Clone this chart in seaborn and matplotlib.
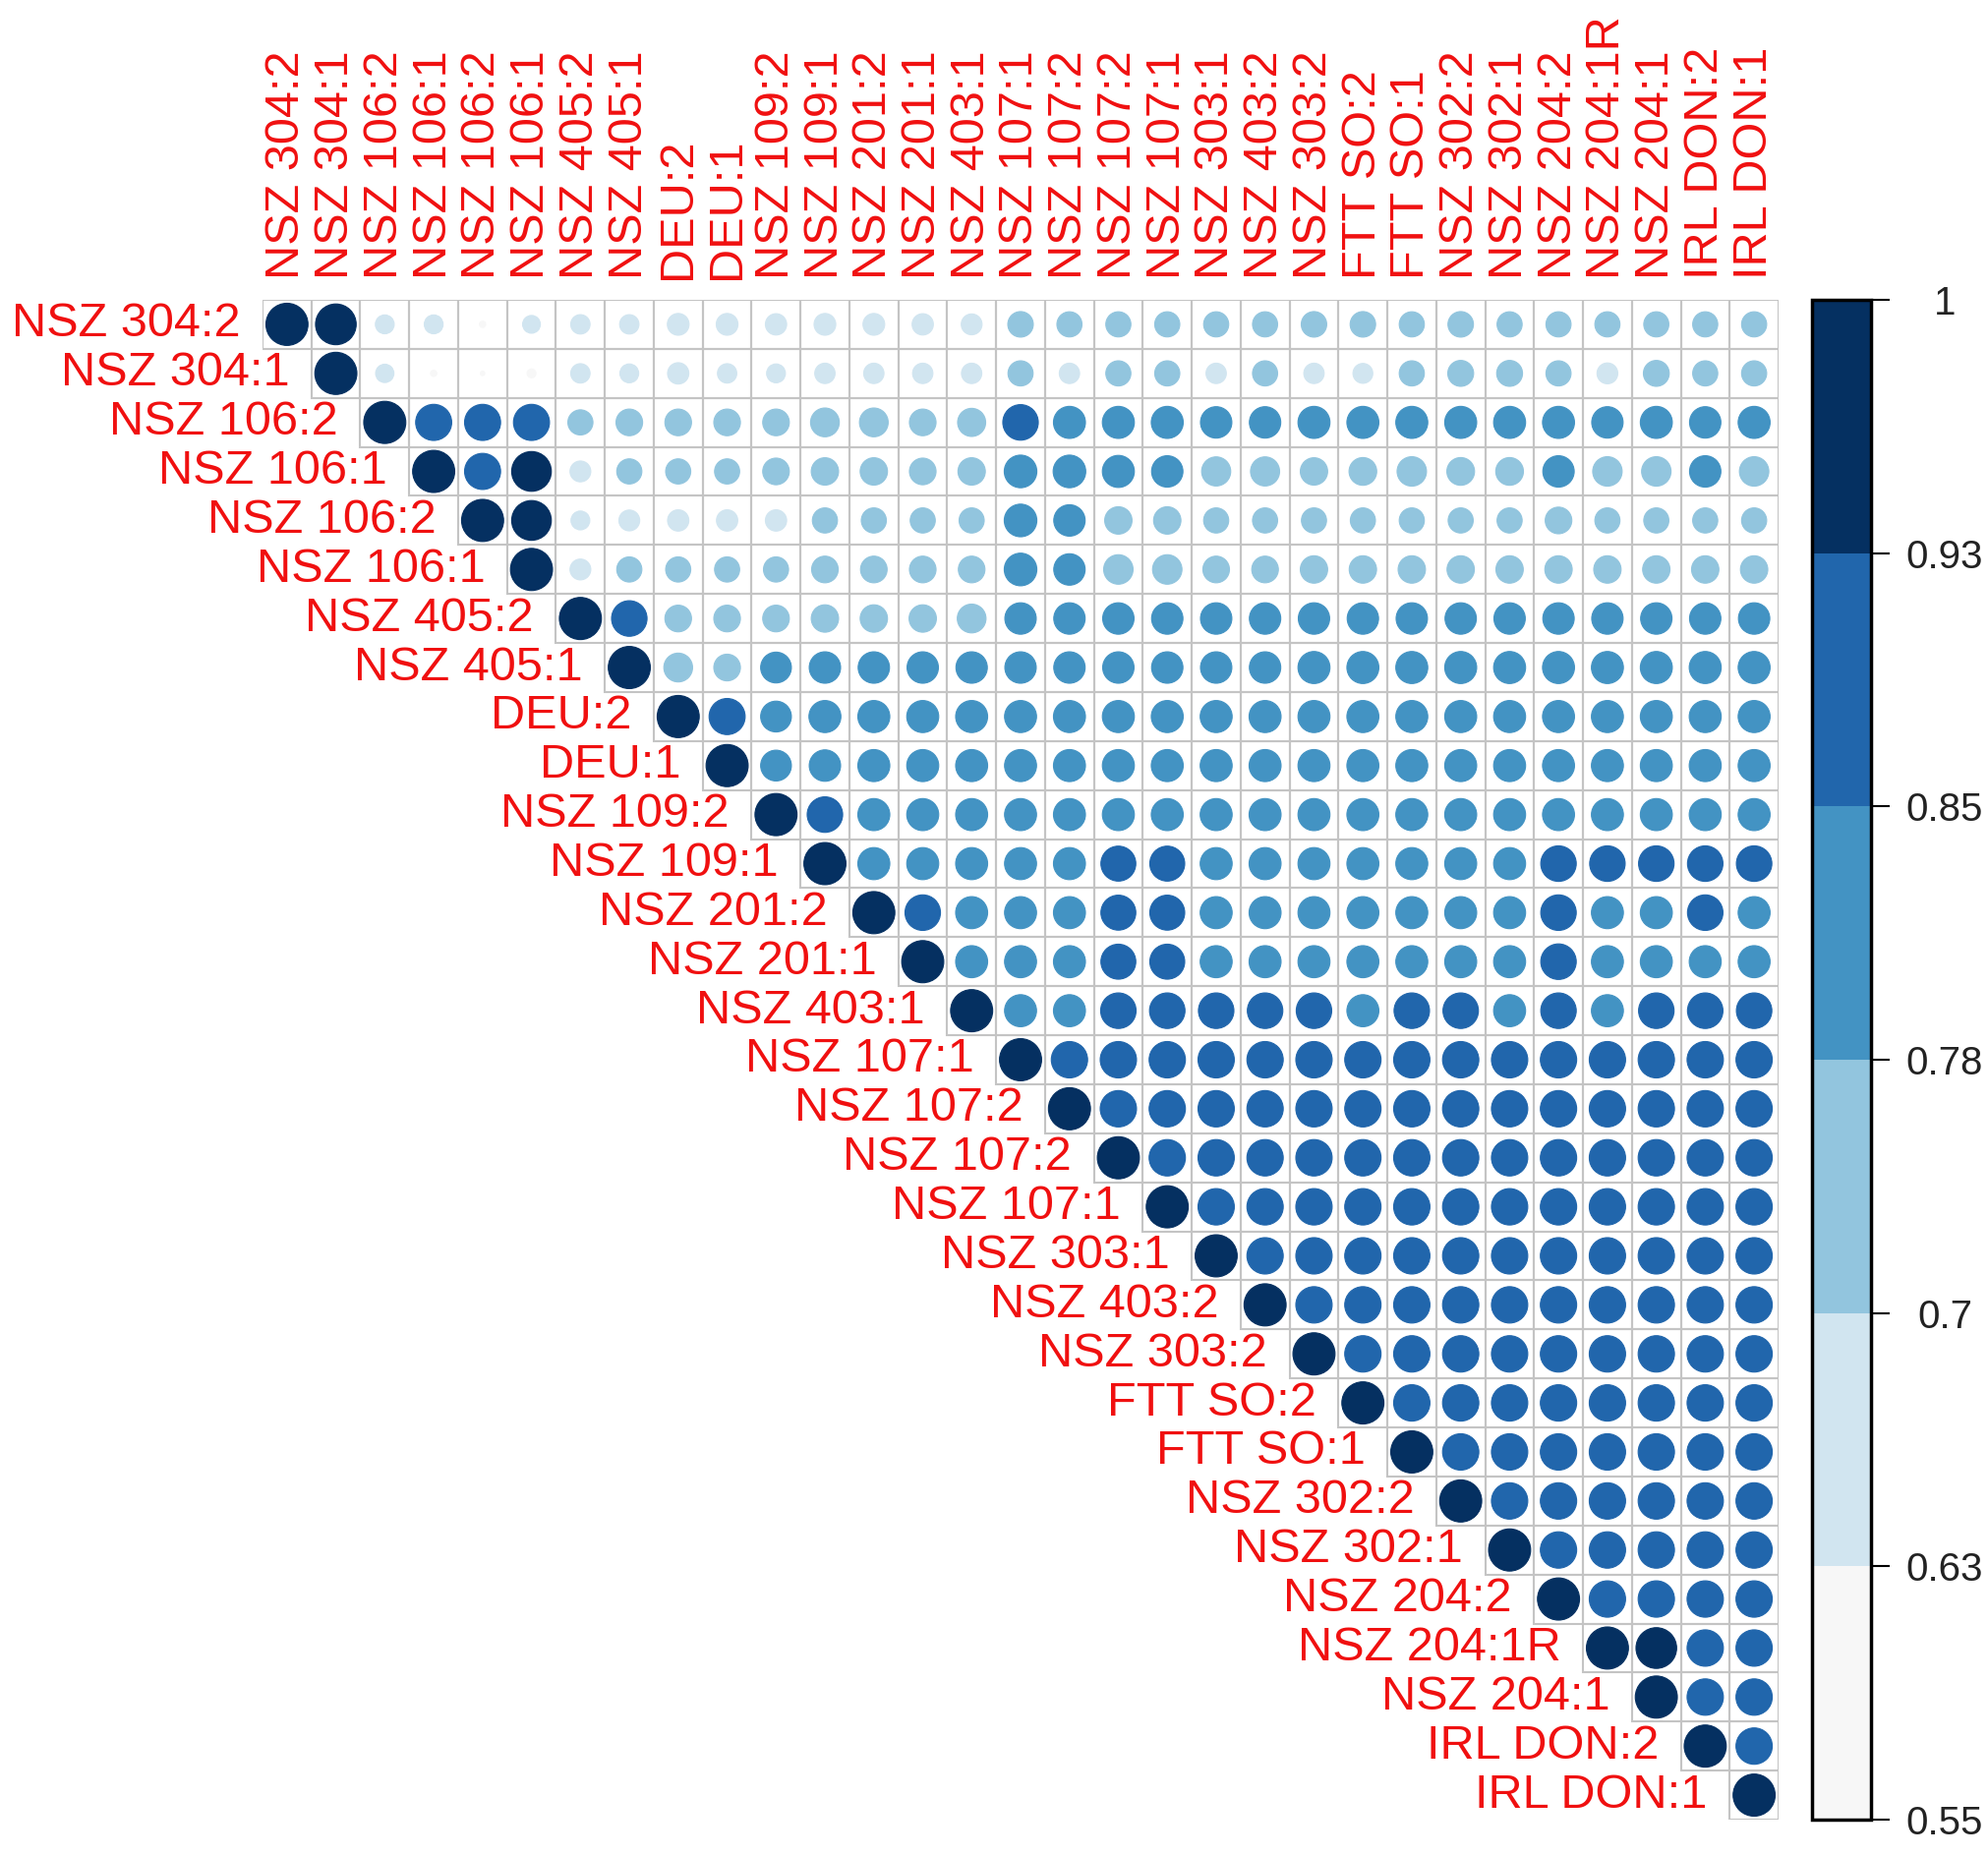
import numpy as np
import pandas as pd
import seaborn as sns
import matplotlib
matplotlib.use("Agg")
import matplotlib.pyplot as plt
from matplotlib.colors import ListedColormap, BoundaryNorm
from matplotlib.patches import Circle, Rectangle
from matplotlib.cm import ScalarMappable

labels = ["NSZ 304:2", "NSZ 304:1", "NSZ 106:2", "NSZ 106:1", "NSZ 106:2", "NSZ 106:1",
          "NSZ 405:2", "NSZ 405:1", "DEU:2", "DEU:1", "NSZ 109:2", "NSZ 109:1",
          "NSZ 201:2", "NSZ 201:1", "NSZ 403:1", "NSZ 107:1", "NSZ 107:2", "NSZ 107:2",
          "NSZ 107:1", "NSZ 303:1", "NSZ 403:2", "NSZ 303:2", "FTT SO:2", "FTT SO:1",
          "NSZ 302:2", "NSZ 302:1", "NSZ 204:2", "NSZ 204:1R", "NSZ 204:1",
          "IRL DON:2", "IRL DON:1"]

# upper-triangle rows: row i holds values for columns i..30
corr_rows = [
    [1.00, 0.97, 0.64, 0.64, 0.56, 0.63, 0.645, 0.645, 0.67, 0.67, 0.665,
     0.67, 0.67, 0.665, 0.66, 0.715, 0.71, 0.71, 0.71, 0.71, 0.71,
     0.715, 0.715, 0.71, 0.715, 0.71, 0.71, 0.71, 0.71, 0.71, 0.71],
    [1.00, 0.635, 0.56, 0.555, 0.57, 0.645, 0.64, 0.665, 0.645, 0.64,
     0.655, 0.655, 0.655, 0.655, 0.71, 0.655, 0.71, 0.71, 0.655, 0.71,
     0.655, 0.65, 0.71, 0.72, 0.72, 0.71, 0.66, 0.72, 0.71, 0.71],
    [1.00, 0.88, 0.88, 0.88, 0.71, 0.73, 0.73, 0.73, 0.73,
     0.76, 0.76, 0.73, 0.75, 0.87, 0.81, 0.81, 0.81, 0.80, 0.80,
     0.81, 0.81, 0.81, 0.81, 0.81, 0.81, 0.80, 0.81, 0.80, 0.81],
    [1.00, 0.88, 0.95, 0.66, 0.71, 0.71, 0.71, 0.73,
     0.74, 0.74, 0.73, 0.74, 0.82, 0.82, 0.81, 0.80, 0.765, 0.765,
     0.74, 0.745, 0.77, 0.745, 0.745, 0.80, 0.77, 0.77, 0.80, 0.77],
    [1.00, 0.95, 0.64, 0.66, 0.665, 0.665, 0.665,
     0.71, 0.71, 0.71, 0.71, 0.82, 0.80, 0.74, 0.74, 0.71, 0.71,
     0.71, 0.71, 0.71, 0.71, 0.71, 0.73, 0.71, 0.71, 0.71, 0.71],
    [1.00, 0.66, 0.71, 0.71, 0.71, 0.71,
     0.73, 0.73, 0.73, 0.73, 0.82, 0.80, 0.77, 0.77, 0.73, 0.73,
     0.74, 0.74, 0.74, 0.74, 0.74, 0.74, 0.74, 0.74, 0.74, 0.74],
    [1.00, 0.87, 0.73, 0.73, 0.73,
     0.74, 0.74, 0.74, 0.76, 0.80, 0.80, 0.80, 0.80, 0.80, 0.80,
     0.80, 0.80, 0.80, 0.80, 0.80, 0.80, 0.80, 0.80, 0.80, 0.80],
    [1.00, 0.76, 0.73, 0.79,
     0.80, 0.80, 0.80, 0.80, 0.80, 0.80, 0.80, 0.80, 0.80, 0.80,
     0.81, 0.81, 0.81, 0.81, 0.81, 0.81, 0.81, 0.81, 0.81, 0.81],
    [1.00, 0.88, 0.79,
     0.81, 0.81, 0.81, 0.81, 0.81, 0.81, 0.81, 0.81, 0.81, 0.81,
     0.81, 0.81, 0.81, 0.81, 0.81, 0.81, 0.81, 0.81, 0.81, 0.81],
    [1.00, 0.79,
     0.80, 0.81, 0.81, 0.81, 0.81, 0.81, 0.81, 0.81, 0.81, 0.81,
     0.81, 0.81, 0.81, 0.81, 0.81, 0.81, 0.81, 0.81, 0.81, 0.81],
    [1.00, 0.87, 0.81, 0.81, 0.81, 0.81, 0.81, 0.81, 0.81, 0.81, 0.81,
     0.81, 0.81, 0.81, 0.81, 0.81, 0.81, 0.81, 0.81, 0.81, 0.81],
    [1.00, 0.81, 0.81, 0.81, 0.81, 0.81, 0.86, 0.86, 0.81, 0.81,
     0.81, 0.81, 0.81, 0.81, 0.81, 0.87, 0.87, 0.87, 0.87, 0.87],
    [1.00, 0.87, 0.81, 0.81, 0.81, 0.86, 0.86, 0.81, 0.81,
     0.81, 0.81, 0.81, 0.81, 0.81, 0.87, 0.81, 0.81, 0.87, 0.81],
    [1.00, 0.81, 0.81, 0.81, 0.86, 0.86, 0.81, 0.81,
     0.81, 0.81, 0.81, 0.81, 0.81, 0.87, 0.81, 0.81, 0.81, 0.81],
    [1.00, 0.81, 0.81, 0.87, 0.87, 0.87, 0.87,
     0.87, 0.81, 0.87, 0.87, 0.81, 0.87, 0.81, 0.87, 0.87, 0.87],
    [1.00, 0.885, 0.885, 0.885, 0.885, 0.885, 0.885, 0.885, 0.885, 0.885, 0.885, 0.885, 0.885, 0.885, 0.885, 0.885],
    [1.00, 0.885, 0.885, 0.885, 0.885, 0.885, 0.885, 0.885, 0.885, 0.885, 0.885, 0.885, 0.885, 0.885, 0.885],
    [1.00, 0.885, 0.885, 0.885, 0.885, 0.885, 0.885, 0.885, 0.885, 0.885, 0.885, 0.885, 0.885, 0.885],
    [1.00, 0.885, 0.885, 0.885, 0.885, 0.885, 0.885, 0.885, 0.885, 0.885, 0.885, 0.885, 0.885],
    [1.00, 0.885, 0.885, 0.885, 0.885, 0.885, 0.885, 0.885, 0.885, 0.885, 0.885, 0.885],
    [1.00, 0.885, 0.885, 0.885, 0.885, 0.885, 0.885, 0.885, 0.885, 0.885, 0.885],
    [1.00, 0.885, 0.885, 0.885, 0.885, 0.885, 0.885, 0.885, 0.885, 0.885],
    [1.00, 0.885, 0.885, 0.885, 0.885, 0.885, 0.885, 0.885, 0.885],
    [1.00, 0.885, 0.885, 0.885, 0.885, 0.885, 0.885, 0.885],
    [1.00, 0.885, 0.885, 0.885, 0.885, 0.885, 0.885],
    [1.00, 0.885, 0.885, 0.885, 0.885, 0.885],
    [1.00, 0.885, 0.885, 0.885, 0.885],
    [1.00, 0.97, 0.885, 0.885],
    [1.00, 0.885, 0.885],
    [1.00, 0.885],
    [1.00],
]

bin_colors = ["#F7F7F7", "#D1E5F0", "#92C5DE", "#4393C3", "#2166AC", "#053061"]
bounds = [0.55, 0.625, 0.70, 0.775, 0.85, 0.925, 1.0]
tick_labels = ["0.55", "0.63", "0.7", "0.78", "0.85", "0.93", "1"]

n = len(labels)
mat = np.full((n, n), np.nan)
for i, row in enumerate(corr_rows):
    assert len(row) == n - i, (i, len(row))
    mat[i, i:] = row
df = pd.DataFrame(mat, index=labels, columns=labels)

sns.set_theme(style="white")
plt.rcParams["font.family"] = ["Liberation Sans", "DejaVu Sans"]

W, H = 2022, 1888
fig = plt.figure(figsize=(W / 100, H / 100), dpi=100)
ax = fig.add_axes([267 / W, 1 - 1851 / H, (1809 - 267) / W, (1851 - 305) / H])

mask = df.isna().values
sns.heatmap(df.notna().astype(float), mask=mask, cmap=ListedColormap(["white"]),
            cbar=False, linewidths=0, ax=ax, xticklabels=False, yticklabels=False)

cmap = ListedColormap(bin_colors)
norm = BoundaryNorm(bounds, cmap.N)
lo, hi = bounds[0], bounds[-1]
grid_col = "#C4C4C4"
for i in range(n):
    for j in range(i, n):
        ax.add_patch(Rectangle((j, i), 1, 1, facecolor="none", edgecolor=grid_col,
                               lw=1.5, zorder=2))
for i in range(n):
    for j in range(i, n):
        v = df.iat[i, j]
        s = max((v - lo) / (hi - lo), 0.0)
        r = 0.43 * np.sqrt(s)
        col = cmap(norm(v))
        ax.add_patch(Circle((j + 0.5, i + 0.5), r, facecolor=col, edgecolor=col,
                            lw=0.8, zorder=3))

# row labels (left of diagonal) and column labels (top)
for i, lab in enumerate(labels):
    ax.text(i - 0.45, i + 0.5, lab, ha="right", va="center", color="#F01010",
            fontsize=35, clip_on=False)
    ax.text(i + 0.5, -0.42, lab, ha="center", va="bottom", rotation=90,
            color="#F01010", fontsize=35, clip_on=False)

ax.set_xlim(0, n)
ax.set_ylim(n, 0)
for sp in ax.spines.values():
    sp.set_visible(False)

# colour legend
cax = fig.add_axes([1843 / W, 1 - 1851 / H, (1903 - 1843) / W, (1851 - 305) / H])
sm = ScalarMappable(norm=norm, cmap=cmap)
cb = fig.colorbar(sm, cax=cax, boundaries=bounds, ticks=bounds, spacing="uniform")
cb.outline.set_edgecolor("black")
cb.outline.set_linewidth(2.5)
cb.set_ticklabels(tick_labels)
cax.tick_params(axis="y", length=14, width=1.5, direction="out", pad=40,
                labelsize=29, colors="black", right=True, labelright=True)
for t in cax.get_yticklabels():
    t.set_horizontalalignment("center")
    t.set_color("#222222")

fig.savefig("out.png", dpi=100, facecolor="white")
